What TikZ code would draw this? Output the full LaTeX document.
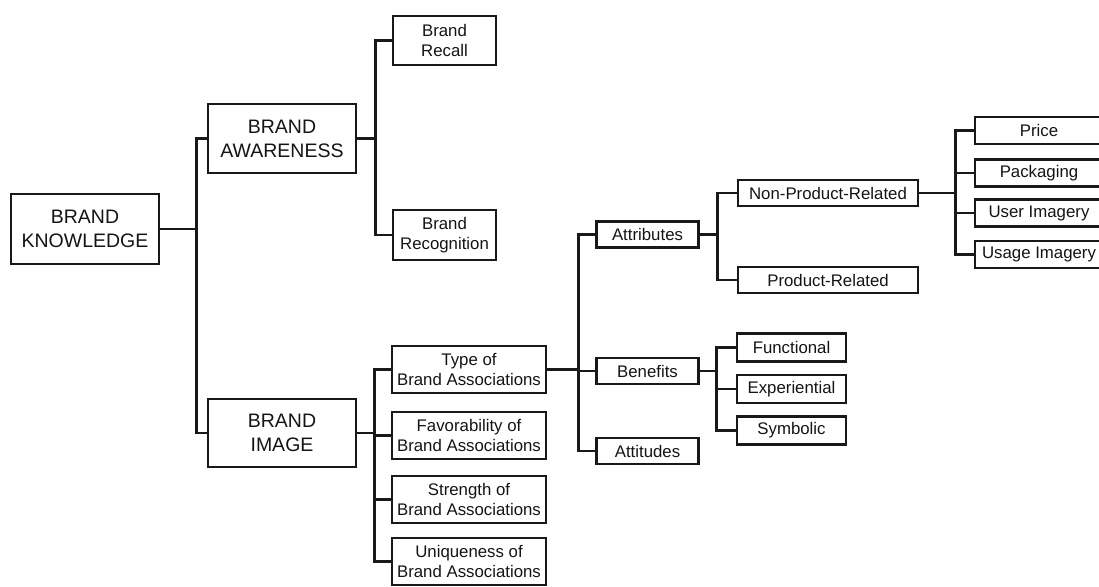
\documentclass[tikz,border=0pt]{standalone}
\usepackage{fontspec}
\setmainfont{Liberation Sans}
\begin{document}
\begin{tikzpicture}[x=1pt,y=-1pt,
  box/.style={draw=black!90,line width=2.6pt,inner sep=0pt,align=center,
    text=black!92,font=\fontsize{16.8}{20.5}\selectfont},
  bigbox/.style={box,minimum width=148pt,font=\fontsize{19.5}{24}\selectfont},
  wire/.style={draw=black!90,line width=2.6pt},
]
\useasboundingbox (0,0) rectangle (1099,586);
\clip (0,0) rectangle (1099,586);

% level 1 and 2
\node[bigbox,minimum height=70pt] (bk) at (85,229) {BRAND\\KNOWLEDGE};
\node[bigbox,minimum height=69pt] (ba) at (282,138.5) {BRAND\\AWARENESS};
\node[bigbox,minimum height=68pt] (bi) at (282,433) {BRAND\\IMAGE};

% awareness children
\node[box,minimum width=103pt,minimum height=49pt] (recall) at (444.5,40.5) {Brand\\Recall};
\node[box,minimum width=103pt,minimum height=50pt] (recog) at (444.5,235) {Brand\\Recognition};

% image children
\begin{scope}[every node/.append style={minimum width=154pt,minimum height=47pt}]
\node[box] (type) at (469,369.5) {Type of\\Brand Associations};
\node[box] (fav) at (469,435.5) {Favorability of\\Brand Associations};
\node[box] (str) at (469,499.5) {Strength of\\Brand Associations};
\node[box] (uniq) at (469,561.5) {Uniqueness of\\Brand Associations};
\end{scope}

% types of associations
\begin{scope}[every node/.append style={minimum width=102pt,minimum height=26pt}]
\node[box] (attr) at (647.5,234.5) {Attributes};
\node[box] (ben) at (647.5,371) {Benefits};
\node[box] (atti) at (647.5,451) {Attitudes};
\end{scope}

% attributes
\begin{scope}[every node/.append style={minimum width=180pt,minimum height=26pt}]
\node[box] (npr) at (828,193) {Non-Product-Related};
\node[box] (pr) at (828,280) {Product-Related};
\end{scope}

% benefits
\begin{scope}[every node/.append style={minimum width=109pt,minimum height=28pt}]
\node[box] (func) at (791.5,347.5) {Functional};
\node[box] (expe) at (791.5,389) {Experiential};
\node[box] (symb) at (791.5,430.5) {Symbolic};
\end{scope}

% non-product-related attributes
\begin{scope}[every node/.append style={minimum width=128pt,minimum height=27pt}]
\node[box] (price) at (1039,130.5) {Price};
\node[box] (pack) at (1039,173) {Packaging};
\node[box] (user) at (1039,213) {User Imagery};
\node[box] (usage) at (1039,254.5) {Usage Imagery};
\end{scope}

% connectors: parent east -> junction -> child west
\foreach \c in {ba,bi} \draw[wire] (bk.east) -- ++(36,0) |- (\c.west);
\foreach \c in {recall,recog} \draw[wire] (ba.east) -- ++(18,0) |- (\c.west);
\foreach \c in {type,fav,str,uniq} \draw[wire] (bi.east) -- ++(17,0) |- (\c.west);
\foreach \c in {attr,ben,atti} \draw[wire] (type.east) -- ++(31,0) |- (\c.west);
\foreach \c in {npr,pr} \draw[wire] (attr.east) -- ++(17.5,0) |- (\c.west);
\foreach \c in {func,expe,symb} \draw[wire] (ben.east) -- ++(16.5,0) |- (\c.west);
\foreach \c in {price,pack,user,usage} \draw[wire] (npr.east) -- ++(36,0) |- (\c.west);
\end{tikzpicture}
\end{document}
